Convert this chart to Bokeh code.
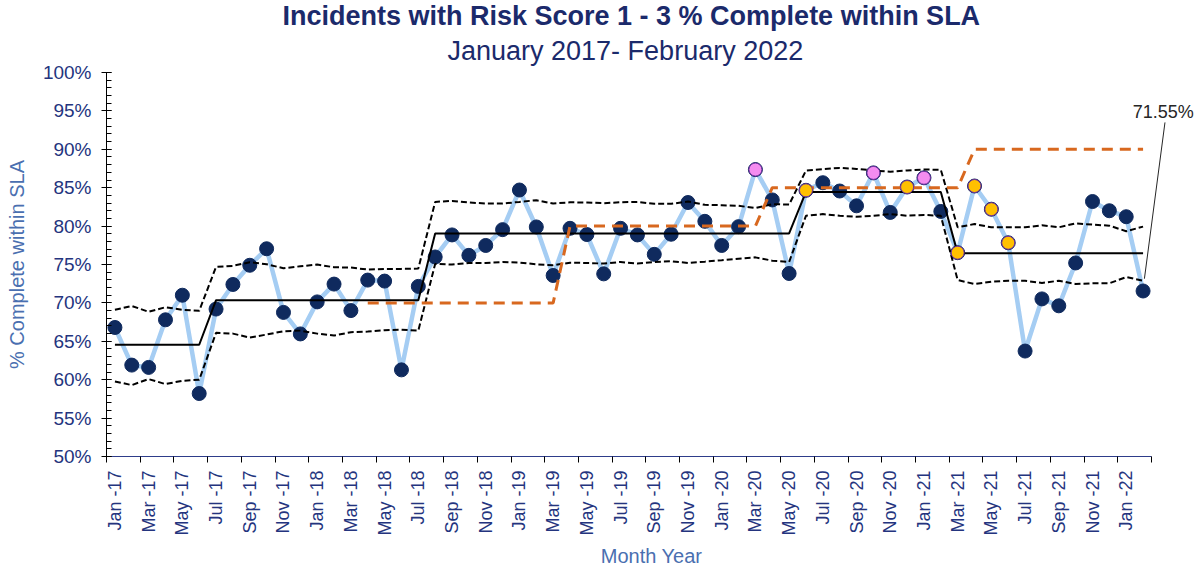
import math
from bokeh.plotting import figure
from bokeh.models import (Range1d, FixedTicker, SingleIntervalTicker, PrintfTickFormatter,
                          Title, Label, Arrow, ColumnDataSource)
from bokeh.embed import file_html
from bokeh.resources import INLINE

# ---------------- data ----------------
month_labels = [
    "Jan -17", "Feb -17", "Mar -17", "Apr -17", "May -17", "Jun -17", "Jul -17", "Aug -17", "Sep -17", "Oct -17", "Nov -17", "Dec -17",
    "Jan -18", "Feb -18", "Mar -18", "Apr -18", "May -18", "Jun -18", "Jul -18", "Aug -18", "Sep -18", "Oct -18", "Nov -18", "Dec -18",
    "Jan -19", "Feb -19", "Mar -19", "Apr -19", "May -19", "Jun -19", "Jul -19", "Aug -19", "Sep -19", "Oct -19", "Nov -19", "Dec -19",
    "Jan -20", "Feb -20", "Mar -20", "Apr -20", "May -20", "Jun -20", "Jul -20", "Aug -20", "Sep -20", "Oct -20", "Nov -20", "Dec -20",
    "Jan -21", "Feb -21", "Mar -21", "Apr -21", "May -21", "Jun -21", "Jul -21", "Aug -21", "Sep -21", "Oct -21", "Nov -21", "Dec -21",
    "Jan -22", "Feb -22",
]

pct_complete = [
    66.8, 61.9, 61.6, 67.8, 71.0, 58.2, 69.2, 72.4, 74.9, 77.05, 68.76, 65.96,
    70.13, 72.45, 69.0, 72.97, 72.84, 61.28, 72.15, 75.98, 78.85, 76.19, 77.48, 79.54,
    84.7, 79.89, 73.57, 79.71, 78.9, 73.78, 79.71, 78.85, 76.32, 78.94, 83.07, 80.62,
    77.48, 79.93, 87.36, 83.41, 73.83, 84.66, 85.65, 84.57, 82.64, 86.93, 81.78, 85.09,
    86.29, 81.91, 76.54, 85.22, 82.2, 77.83, 63.73, 70.52, 69.62, 75.2, 83.2, 82.0,
    81.22, 71.55,
]

mean_line = (
    [64.55] * 6 + [70.35] * 13 + [79.05] * 22 + [84.45] * 9 + [76.45] * 12
)

upper_limit = [
    69.1, 69.6, 68.84, 69.44, 69.1, 68.97,
    74.69, 74.82, 75.3, 75.03, 74.51, 74.77, 74.99, 74.64, 74.6, 74.34, 74.43, 74.43, 74.47,
    83.15, 83.28, 83.07, 82.94, 82.94, 83.15, 83.37, 82.94, 83.1, 83.07, 82.98, 83.1, 83.15,
    82.9, 82.9, 83.2, 82.77, 82.72, 82.64, 82.35, 82.86, 82.8,
    87.24, 87.41, 87.58, 87.45, 87.24, 87.07, 87.24, 87.37, 87.33,
    79.84, 80.27, 79.84, 79.84, 79.84, 80.1, 79.84, 80.36, 80.19, 80.06, 79.33, 79.93,
]

lower_limit = [
    59.77, 59.3, 60.08, 59.43, 59.86, 59.99,
    66.1, 66.0, 65.49, 65.88, 66.31, 66.39, 66.0, 65.75, 66.18, 66.27, 66.44, 66.52, 66.39,
    75.08, 74.99, 75.2, 75.2, 75.33, 75.24, 75.03, 74.9, 75.24, 75.2, 75.12, 75.33, 75.12,
    75.33, 75.42, 75.2, 75.37, 75.55, 75.76, 75.93, 75.5, 75.33,
    81.35, 81.56, 81.35, 81.22, 81.35, 81.56, 81.35, 81.45, 81.35,
    72.97, 72.46, 72.76, 72.89, 72.89, 72.59, 72.89, 72.46, 72.55, 72.55, 73.36, 72.89,
]

nan = float("nan")
target = [nan] * 15 + [70] * 12 + [80] * 12 + [85] * 12 + [90] * 11

pink_months = ["Mar -20", "Oct -20", "Jan -21"]
amber_months = ["Jun -20", "Dec -20", "Mar -21", "Apr -21", "May -21", "Jun -21"]

# ---------------- styles ----------------
FONT = "Liberation Sans"
NAVY = "#1b2a6b"
TICK_NAVY = "#24347e"
AXIS_TITLE_BLUE = "#4a6fb0"
LINE_BLUE = "#a5cdf3"
DOT_NAVY = "#0f2a5e"

x = list(range(len(month_labels)))
n = len(month_labels)

# frame spans the category axis plus room on the right for the call-out
p = figure(width=1196, height=569, x_range=Range1d(-0.5, 64.17), y_range=Range1d(50, 100),
           output_backend="svg", toolbar_location=None, title=None,
           min_border_left=106, min_border_right=0, min_border_top=72, min_border_bottom=111)
p.xgrid.visible = False
p.ygrid.visible = False
p.outline_line_color = None
p.background_fill_color = "white"

# titles
p.add_layout(Title(text="January 2017- February 2022", align="left", text_font=FONT,
                   text_font_size="27px", text_font_style="normal", text_color=NAVY,
                   standoff=13, offset=341), "above")
p.add_layout(Title(text="Incidents with Risk Score 1 - 3 %  Complete within SLA", align="left",
                   text_font=FONT, text_font_size="27px", text_font_style="bold",
                   text_color=NAVY, standoff=-6, offset=176), "above")

# x axis
xa = p.xaxis[0]
xa.bounds = (-0.5, n - 0.5)
xa.ticker = FixedTicker(ticks=list(range(0, n - 1, 2)),
                        minor_ticks=[i - 0.5 for i in range(0, n + 1, 2)])
xa.major_label_overrides = {i: month_labels[i] for i in range(0, n, 2)}
xa.major_label_orientation = math.pi / 2
xa.major_tick_in = 0
xa.major_tick_out = 0
xa.minor_tick_in = 0
xa.minor_tick_out = 6
xa.minor_tick_line_color = "black"
xa.axis_line_color = "#2e3d8a"
xa.axis_line_width = 1.2
xa.major_label_standoff = 8
xa.major_label_text_font = FONT
xa.major_label_text_font_size = "18px"
xa.major_label_text_color = TICK_NAVY
xa.axis_label = "Month Year"
xa.axis_label_text_font = FONT
xa.axis_label_text_font_size = "20px"
xa.axis_label_text_font_style = "normal"
xa.axis_label_text_color = AXIS_TITLE_BLUE
xa.axis_label_standoff = 6

# y axis
ya = p.yaxis[0]
ya.ticker = SingleIntervalTicker(interval=5, num_minor_ticks=5)
ya.formatter = PrintfTickFormatter(format="%d%%")
ya.major_tick_in = 5
ya.major_tick_out = 5
ya.minor_tick_in = 5
ya.minor_tick_out = 0
ya.axis_line_color = "black"
ya.major_tick_line_color = "black"
ya.minor_tick_line_color = "black"
ya.major_label_standoff = 10
ya.major_label_text_font = FONT
ya.major_label_text_font_size = "19px"
ya.major_label_text_color = TICK_NAVY
ya.axis_label = "% Complete within SLA"
ya.axis_label_text_font = FONT
ya.axis_label_text_font_size = "20px"
ya.axis_label_text_font_style = "normal"
ya.axis_label_text_color = AXIS_TITLE_BLUE
ya.axis_label_standoff = 12

src = ColumnDataSource(dict(x=x, y=pct_complete, mean=mean_line, ucl=upper_limit,
                            lcl=lower_limit, target=target))

# data line and dots
p.line("x", "y", source=src, line_color=LINE_BLUE, line_width=4.5)
p.scatter("x", "y", source=src, size=14, fill_color=DOT_NAVY, line_color=DOT_NAVY)

# process limits / mean / target
p.line("x", "mean", source=src, line_color="black", line_width=2)
p.line("x", "ucl", source=src, line_color="black", line_width=2, line_dash="6 3")
p.line("x", "lcl", source=src, line_color="black", line_width=2, line_dash="6 3")
p.line("x", "target", source=src, line_color="#d8681f", line_width=3, line_dash="11 7")

# flagged points
pink_idx = [month_labels.index(m) for m in pink_months]
amber_idx = [month_labels.index(m) for m in amber_months]
p.scatter([x[i] for i in pink_idx], [pct_complete[i] for i in pink_idx], size=13,
          fill_color="#f48cf0", line_color="#7030a0", line_width=1)
p.scatter([x[i] for i in amber_idx], [pct_complete[i] for i in amber_idx], size=13,
          fill_color="#ffc000", line_color="#7030a0", line_width=1)

# last value callout
last_i = n - 1
p.add_layout(Label(x=62.2, y=94.8, text=f"{pct_complete[last_i]:.2f}%", text_align="center",
                   text_baseline="middle", text_font=FONT, text_font_size="18px",
                   text_color="#262626"))
p.add_layout(Arrow(end=None, x_start=62.3, y_start=93.5, x_end=x[last_i] + 0.08,
                   y_end=pct_complete[last_i] + 1.6, line_color="#262626", line_width=1))

open("out.html", "w").write(file_html(p, INLINE))
